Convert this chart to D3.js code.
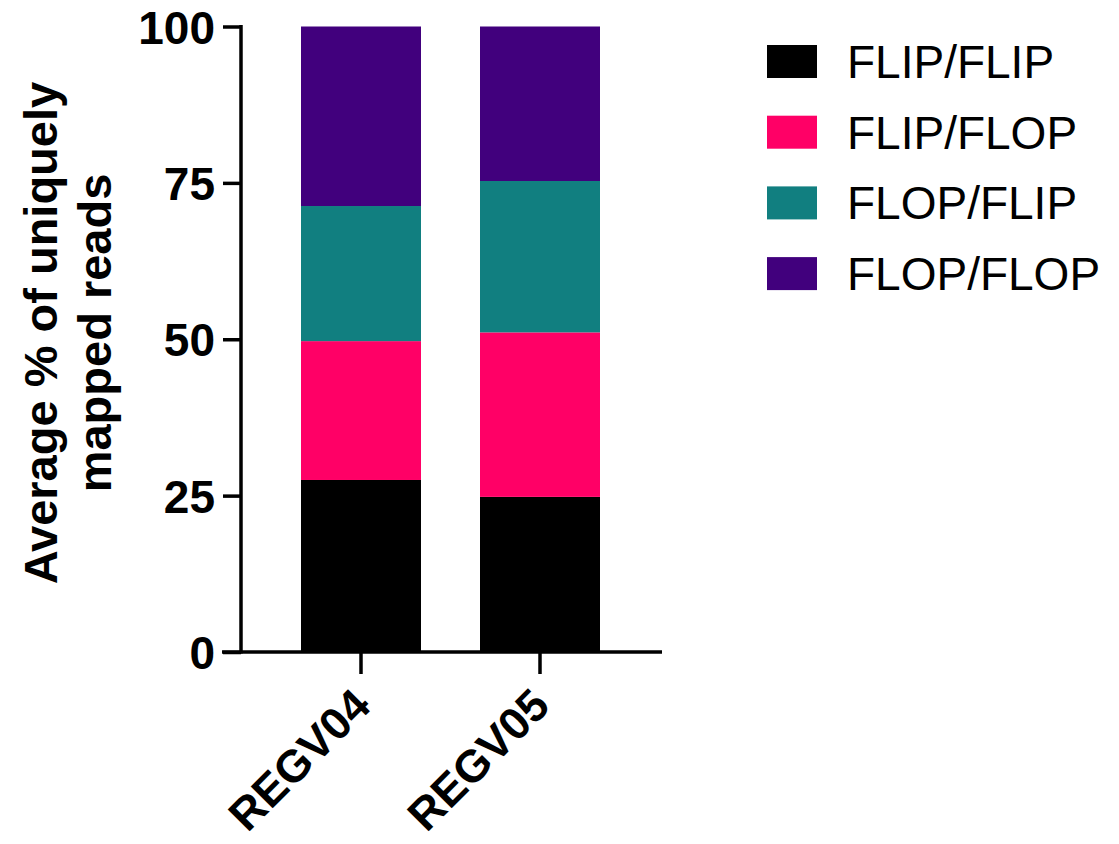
<!DOCTYPE html>
<html>
<head>
<meta charset="utf-8">
<script src="https://cdn.jsdelivr.net/npm/d3@7"></script>
<style>
  html, body { margin: 0; padding: 0; background: #fff; }
  svg { display: block; font-family: "Liberation Sans", Arial, sans-serif; }
</style>
</head>
<body>
<svg id="chart" width="1119" height="844"></svg>
<script>
const categories = ["REGV04", "REGV05"];
const seriesNames = ["FLIP/FLIP", "FLIP/FLOP", "FLOP/FLIP", "FLOP/FLOP"];
const flipFlip = [27.5, 24.8];
const flipFlop = [22.2, 26.3];
const flopFlip = [21.6, 24.2];
const flopFlop = [28.7, 24.7];
const colors = ["#000000", "#FF0066", "#117F80", "#41007D"];
const yTicks = [0, 25, 50, 75, 100];
const yTitle = ["Average % of uniquely", "mapped reads"];

const seriesValues = [flipFlip, flipFlop, flopFlip, flopFlop];
const rows = categories.map((c, i) => {
  const r = { cat: c };
  seriesNames.forEach((s, j) => r[s] = seriesValues[j][i]);
  return r;
});
const stacked = d3.stack().keys(seriesNames)(rows);

const svg = d3.select("#chart");
const y = d3.scaleLinear().domain([0, 100]).range([652, 26.5]);
const x = d3.scaleBand().domain(categories).range([211.5, 689.5])
  .paddingInner(59 / 179).paddingOuter(0.5);
const color = d3.scaleOrdinal().domain(seriesNames).range(colors);

// bars
svg.append("g").selectAll("g").data(stacked).join("g")
  .attr("fill", d => color(d.key))
  .selectAll("rect").data(d => d).join("rect")
  .attr("x", d => x(d.data.cat))
  .attr("width", x.bandwidth())
  .attr("y", d => y(d[1]))
  .attr("height", d => y(d[0]) - y(d[1]));

const axisX0 = 241;
// y axis
const yAxis = svg.append("g").attr("transform", `translate(${axisX0},0)`)
  .call(d3.axisLeft(y).tickValues(yTicks).tickSize(18).tickPadding(8).tickSizeOuter(0));
yAxis.select(".domain").attr("stroke-width", 3.5).attr("d", `M0,${y(100) - 1.5}V${y(0) + 1.5}`);
yAxis.selectAll(".tick line").attr("stroke-width", 3.5);
yAxis.selectAll(".tick text").attr("font-size", 46).attr("font-weight", "bold").attr("fill", "#000").attr("dy", "0.36em");

// x axis
const xAxis = svg.append("g").attr("transform", `translate(0,${y(0)})`)
  .call(d3.axisBottom(x).tickSize(22).tickSizeOuter(0).tickFormat(""));
xAxis.select(".domain").attr("stroke-width", 3.5).attr("d", `M222,0H662`);
xAxis.selectAll(".tick line").attr("stroke-width", 3.5);

// x labels rotated
svg.append("g").selectAll("text").data(categories).join("text")
  .attr("transform", d => `translate(${x(d) + x.bandwidth() / 2 + 12},${y(0) + 56}) rotate(-45)`)
  .attr("text-anchor", "end")
  .attr("font-size", 45).attr("font-weight", "bold")
  .text(d => d);

// y title
const yt = svg.append("text")
  .attr("transform", `translate(57,333) rotate(-90)`)
  .attr("text-anchor", "middle")
  .attr("font-size", 47).attr("font-weight", "bold");
yt.selectAll("tspan").data(yTitle).join("tspan")
  .attr("x", 0).attr("dy", (d, i) => i === 0 ? 0 : 54).text(d => d);

// legend
const legend = svg.append("g").selectAll("g").data(seriesNames).join("g")
  .attr("transform", (d, i) => `translate(767,${45 + i * 70.7})`);
legend.append("rect").attr("width", 50).attr("height", 33).attr("fill", d => color(d));
legend.append("text").attr("x", 80).attr("y", 16.5).attr("dy", "0.36em")
  .attr("font-size", 46).text(d => d);
</script>
</body>
</html>
